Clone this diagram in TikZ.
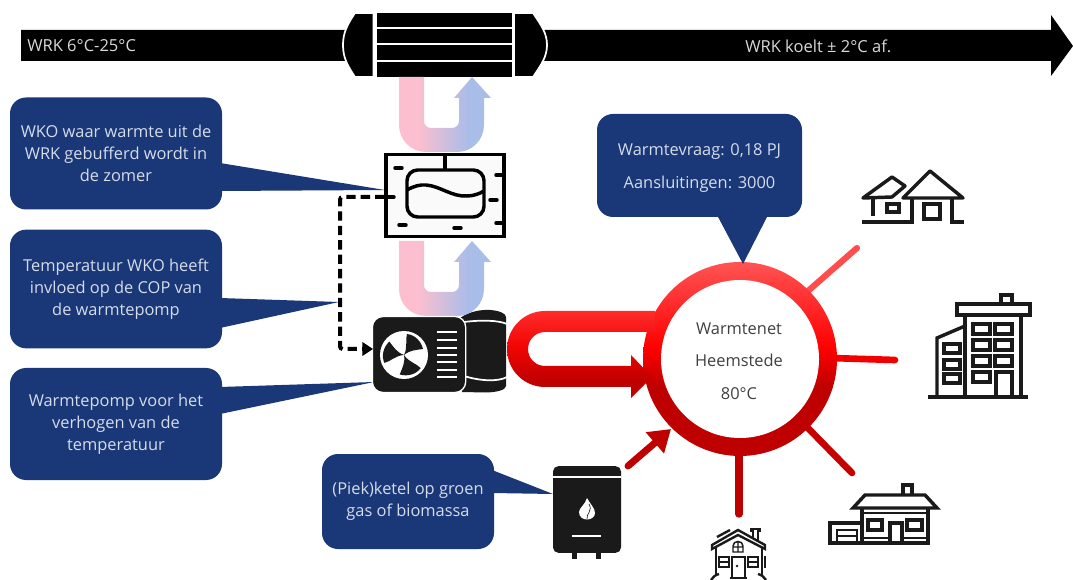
\documentclass[tikz,border=0pt]{standalone}
\usepackage{fontspec}
\setmainfont{Open Sans}
\usetikzlibrary{arrows.meta}
\definecolor{navy}{HTML}{1A3778}
\definecolor{calltext}{HTML}{D5DCEA}
\definecolor{icon}{HTML}{1A1A1A}
\pgfdeclareverticalshading{ringshade}{100bp}{rgb(0bp)=(.75,0,0); rgb(25bp)=(.75,0,0); rgb(43bp)=(.75,0,0); rgb(53bp)=(1,0,0); rgb(75bp)=(1,.33,.33); rgb(100bp)=(1,.33,.33)}
\pgfdeclareverticalshading{pipeshade}{100bp}{rgb(0bp)=(.75,0,0); rgb(35bp)=(.75,0,0); rgb(55bp)=(.95,.02,.02); rgb(75bp)=(1,.17,.17); rgb(100bp)=(1,.17,.17)}
\pgfdeclarehorizontalshading{ushade}{100bp}{rgb(0bp)=(.99,.75,.81); rgb(35bp)=(.99,.75,.81); rgb(63bp)=(.66,.74,.91); rgb(100bp)=(.66,.74,.91)}
\tikzset{
  callout/.style={fill=navy,text=calltext,rounded corners=12pt,inner sep=0pt,align=center,font=\fontsize{12.3}{16.5}\selectfont},
  calltail/.style={fill=navy},
  iconline/.style={draw=icon,line width=2.6pt,line join=miter},
  thinline/.style={draw=icon,line width=1.8pt},
  spoke/.style={line width=#1,line cap=round},
  barlabel/.style={text=white!85!black,font=\fontsize{12.4}{14}\selectfont,inner sep=0pt},
  capstyle/.style={fill=black,draw=white,line width=1.3pt},
  grille/.style={draw=white,line width=2pt},
  tick/.style={draw=black,line width=2.6pt,line cap=round},
}
\begin{document}
\begin{tikzpicture}[x=0.75pt,y=-0.75pt]
\useasboundingbox (0,0) rectangle (1073,580);
% main arrow
\fill[black] (21,30)--(1051,30)--(1051,15)--(1073,46)--(1051,76)--(1051,61)--(21,61)--cycle;
\node[barlabel,anchor=west] (wrkin) at (27,46) {WRK 6°C-25°C};
\node[barlabel,anchor=west] (wrkout) at (745,46) {WRK koelt ± 2°C af.};
% heat exchanger
\fill[white] (373,12) rectangle (514,78);
\foreach \a/\b in {13/27,29/43.5,45.5/60,62/77}{\fill[black] (376.5,\a) rectangle (512,\b);}
\path[capstyle] (355,13)--(373.5,13)--(373.5,77)--(355,77) .. controls (347,65) and (343,57) .. (343,45) .. controls (343,33) and (347,25) .. (355,13)--cycle;
\path[capstyle] (533,13)--(514,13)--(514,77)--(533,77) .. controls (541,65) and (547,57) .. (547,45) .. controls (547,33) and (541,25) .. (533,13)--cycle;
% pump rear cylinder
\fill[icon] (460,318) .. controls (470,311) and (482,309.5) .. (490,310) .. controls (498,310.5) and (506,313) .. (506,317) -- (506,386) .. controls (506,390) and (496,392.5) .. (485,392.5) -- (462,392) -- cycle;
\draw[white,line width=1.3pt] (464,322) .. controls (480,320) and (498,320) .. (507,324);
\draw[white,line width=1.3pt] (464,376) .. controls (480,381) and (498,382) .. (507,377);
% U arrows
\foreach \d in {0,-164}{
\path[shading=ushade,shift={(0,\d)}] (399,241) -- (399,289) .. controls (399,304) and (411,316) .. (426,316) -- (457,316) .. controls (472,316) and (484,304) .. (484,289) -- (484,262) -- (491,262) -- (472,241) -- (454,262) -- (459,262) -- (459,285) .. controls (459,289) and (456,292) .. (452,292) -- (431,292) .. controls (427,292) and (424,289) .. (424,285) -- (424,241) -- cycle;
}
% WKO
\node[draw=black,line width=2.8pt,fill=white!98!black,minimum width=88pt,minimum height=61.5pt,inner sep=0pt] (wkobox) at (445,195.5) {};
\draw[black,line width=2.6pt,rounded corners=8pt] (407,170) rectangle (484,217);
\draw[black,line width=2.6pt] (445,153) -- (445,170);
\draw[black,line width=2.6pt] (407,190) .. controls (414,186) and (420,184.5) .. (426,185) .. controls (440,186) and (452,197) .. (467,196) .. controls (473,196) and (479,194) .. (484,191);
\foreach \xa/\xb/\yy in {395/402/168,386/394/197,399/406/225,454/461/228,490/497/200,496/504/175,496/504/223}{\draw[tick] (\xa,\yy) -- (\xb,\yy);}
% callouts
\fill[calltail] (220,163) -- (385,190) -- (220,191) -- cycle;
\node[callout,minimum width=159pt,minimum height=84pt] (calla) at (116,153.5) {WKO waar warmte uit de\\WRK gebufferd wordt in\\de zomer};
\fill[calltail] (220,298) -- (339,302) -- (220,328) -- cycle;
\node[callout,minimum width=159pt,minimum height=89pt] (callb) at (116,289) {Temperatuur WKO heeft\\invloed op de COP van\\de warmtepomp};
\fill[calltail] (220,387) -- (374,382) -- (220,414) -- cycle;
\node[callout,minimum width=159pt,minimum height=84pt] (callc) at (116,424) {Warmtepomp voor het\\verhogen van de\\temperatuur};
\fill[calltail] (492,470) -- (553,494) -- (492,493) -- cycle;
\node[callout,minimum width=129pt,minimum height=71.25pt] (calld) at (408,501.5) {(Piek)ketel op groen\\gas of biomassa};
% ring and spokes
\coordinate (spokeA) at (857,248); \coordinate (spokeB) at (895,360);
\coordinate (spokeC) at (852,473); \coordinate (spokeD) at (739,514);
\coordinate (ringA) at (800,298); \coordinate (ringB) at (830,358);
\coordinate (ringC) at (802,422); \coordinate (ringD) at (739,445);
\draw[spoke=4.6pt,color=red!70!white!100] (ringA) -- (spokeA);
\draw[spoke=5pt,color=red!95!black] (ringB) -- (spokeB);
\draw[spoke=5pt,color=red!78!black] (ringC) -- (spokeC);
\draw[spoke=5.6pt,color=red!75!black] (ringD) -- (spokeD);
\path[shading=ringshade] (740,359) circle[radius=72.75pt];
\node[circle,fill=white,minimum size=118.5pt,inner sep=0pt] (ring) at (740,359) {};
\node[inner sep=0pt,align=center,text=black!75,font=\fontsize{12.3}{24.4}\selectfont] (ringtext) at (739,361) {Warmtenet\\Heemstede\\80°C};
% callout E above ring
\fill[calltail] (717,215) -- (743,264) -- (768,215) -- cycle;
\node[callout,minimum width=153.75pt,minimum height=77.25pt] (calle) at (699.5,165.5) {};
\node[inner sep=0pt,align=center,text=calltext,font=\fontsize{12.3}{24.75}\selectfont] (calletext) at (699.5,168.5) {Warmtevraag: 0,18 PJ\\Aansluitingen: 3000};
% red pipe
\path[shading=pipeshade] (655,311) -- (545,311) .. controls (524,311) and (507,328) .. (507,349) .. controls (507,370) and (524,387) .. (545,387) -- (631,387) -- (631,398) -- (652,377) -- (631,355) -- (631,366) -- (545,366) .. controls (535.6,366) and (528,358.4) .. (528,349) .. controls (528,339.6) and (535.6,332) .. (545,332) -- (655,332) -- cycle;
% heat pump
\node[fill=icon,draw=white,line width=1pt,rounded corners=8pt,minimum width=70pt,minimum height=57pt,inner sep=0pt] (pump) at (419,354.5) {};
\fill[white] (404,355) circle[radius=18pt];
\foreach \r in {0,120,240}{
\fill[icon,shift={(404,355)},rotate=\r] (0,0) .. controls (4,-8) and (1,-15) .. (3,-21) .. controls (11,-20) and (17,-14) .. (19,-6) .. controls (12,-5) and (6,-5) .. (0,0) -- cycle;
}
\foreach \yy in {332,340,348,355,362,370,377}{\draw[grille] (437,\yy) -- (457,\yy);}
% dashed link
\coordinate (dashA) at (340,197); \coordinate (dashB) at (340,349); \coordinate (pumpport) at (373,349);
\draw[black,line width=3pt,dash pattern=on 7pt off 3.8pt,rounded corners=2pt,-{Triangle[width=10pt,length=8pt]}] (wkobox.west |- dashA) -- (dashA) -- (dashB) -- (pumpport);
% boiler
\fill[icon] (572,550) rectangle (577,559);
\fill[icon] (596,550) rectangle (601,559);
\node[fill=icon,rounded corners=4pt,minimum width=51pt,minimum height=65pt,inner sep=0pt] (boiler) at (587,509.5) {};
\draw[white,line width=1pt] (553,477) -- (621,477);
\fill[white] (587,498) .. controls (590,504) and (595,508) .. (595,513) .. controls (595,517) and (591,519.5) .. (587,519.5) .. controls (583,519.5) and (579,517) .. (579,512) .. controls (579,508) and (585,505) .. (587,498) -- cycle;
\draw[icon,line width=.5pt] (587,519) .. controls (586,514) and (593,511) .. (589,504);
\draw[white,line width=1.7pt] (572,536) -- (601,536);
% boiler arrow
\coordinate (boilerout) at (628,466); \coordinate (boilerin) at (671,429);
\draw[color=red!75!black,line width=5.2pt,line cap=round,-{Triangle[width=20pt,length=16pt]}] (boilerout) -- (boilerin);
% house 1
\draw[iconline,line join=round] (863,198) -- (892,177) -- (905,186) -- (892,197) -- cycle;
\draw[iconline,line join=round] (930,171) -- (903,198) -- (963,198) -- cycle;
\draw[iconline] (873,198) -- (873,216);
\draw[iconline] (862,222) -- (912,222) -- (912,198);
\draw[iconline] (952,198) -- (952,222) -- (964,222);
\draw[iconline] (887,204) rectangle (899,212);
\draw[iconline] (924,204) rectangle (940,219);
% building
\draw[iconline] (957,304) rectangle (1030,315);
\draw[iconline] (1001,295) rectangle (1012,304);
\draw[iconline] (965,315) -- (965,397);
\draw[iconline] (1021,315) -- (1021,397);
\draw[iconline] (928,397) -- (1028,397);
\draw[iconline] (965,326) -- (937,338) -- (937,397);
\foreach \a/\b in {324/334,340/350,356/366}{\draw[iconline] (973,\a) rectangle (990,\b); \draw[iconline] (995,\a) rectangle (1012,\b);}
\draw[iconline] (973,372) rectangle (990,382);
\draw[iconline] (996,397) -- (996,372) -- (1012,372) -- (1012,397);
\foreach \a/\b in {344/353,360/369,374/383}{\draw[iconline] (944,\a) rectangle (960,\b);}
% house 3
\draw[iconline] (853,508) -- (865,495) -- (925,495) -- (937,508) -- cycle;
\draw[iconline] (903,495) -- (903,485) -- (912,485) -- (912,495);
\draw[iconline] (862,508) -- (862,543) -- (928,543) -- (928,508);
\draw[thinline] (862,513) -- (928,513);
\draw[thinline] (862,538) -- (890,538); \draw[thinline] (902,538) -- (928,538);
\draw[iconline] (868,520) rectangle (882,530);
\draw[iconline] (907,520) rectangle (922,530);
\draw[iconline] (890,543) -- (890,523) -- (902,523) -- (902,543);
\draw[iconline] (862,523) -- (830,523) -- (830,543) -- (862,543);
\draw[thinline] (837,543) -- (837,530) -- (857,530) -- (857,543);
\draw[thinline] (837,536) -- (857,536);
% house 2
\draw[thinline] (712,549) -- (712,545) -- (738,530) -- (765,545) -- (765,549) -- (738,535) -- cycle;
\draw[thinline] (717,537) -- (730,530);
\draw[thinline] (753,537) -- (753,531) -- (751,531) -- (751,529) -- (760,529) -- (760,531) -- (758,531) -- (758,541);
\draw[thinline] (716,548) -- (716,576);
\draw[thinline] (762,548) -- (762,576);
\draw[thinline] (765,556) -- (765,568);
\draw[line width=1.1pt,draw=icon] (733,552) -- (733,546) .. controls (733,540) and (743,540) .. (743,546) -- (743,552) -- cycle (738,542) -- (738,552) (733,547) -- (743,547);
\draw[line width=1.1pt,draw=icon] (719,557) rectangle (729,567) (719,562) -- (729,562);
\draw[line width=1.1pt,draw=icon] (748,557) rectangle (758,567) (748,562) -- (758,562);
\draw[thinline] (732,577) -- (732,557) -- (745,557) -- (745,577);
\fill[icon] (737,566) circle[radius=1pt];
\draw[thinline] (711,580) .. controls (713,577) and (715,575) .. (719,574);
\draw[thinline] (766,580) .. controls (764,577) and (762,575) .. (758,574);
\draw[thinline] (730,578) -- (747,578);
\end{tikzpicture}
\end{document}
